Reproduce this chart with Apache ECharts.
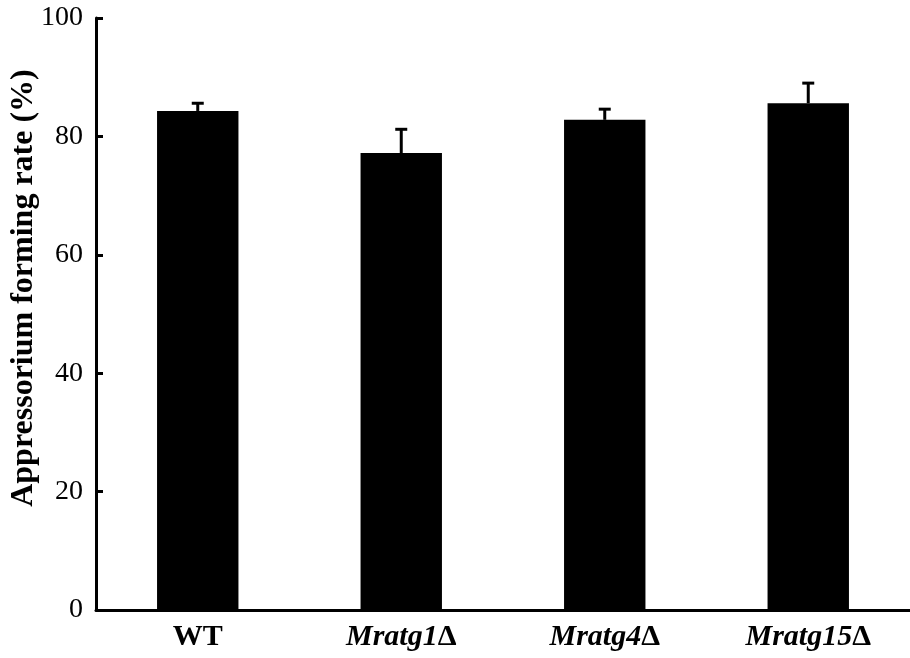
<!DOCTYPE html>
<html>
<head>
<meta charset="utf-8">
<script src="https://cdn.jsdelivr.net/npm/echarts@6/dist/echarts.min.js"></script>
<style>html,body{margin:0;padding:0;background:#fff}#c{width:910px;height:658px}</style>
</head>
<body>
<div id="c"></div>
<script>
var categories = ['WT', 'Mratg1\u0394', 'Mratg4\u0394', 'Mratg15\u0394'];
var values = [84.3, 77.2, 82.8, 85.6];
var errors = [1.3, 4.0, 1.8, 3.4];
var yTicks = [0, 20, 40, 60, 80, 100];

var chart = echarts.init(document.getElementById('c'), null, {renderer: 'canvas'});
var serif = 'Liberation Serif, Times New Roman, serif';

chart.setOption({
  animation: false,
  backgroundColor: '#fff',
  grid: {left: 96, right: 0, top: 18, bottom: 48, containLabel: false, outerBoundsMode: 'none'},
  xAxis: {
    type: 'category',
    data: categories,
    axisLine: {lineStyle: {color: '#000', width: 3}},
    axisTick: {inside: true, length: 8, lineStyle: {color: '#000', width: 3}},
    axisLabel: {
      margin: 12,
      formatter: function (v) {
        if (v.indexOf('\u0394') < 0) return '{b|' + v + '}';
        return '{i|' + v.replace('\u0394', '') + '}{b|\u0394}';
      },
      rich: {
        b: {fontFamily: serif, fontWeight: 'bold', fontSize: 30, color: '#000'},
        i: {fontFamily: serif, fontWeight: 'bold', fontStyle: 'italic', fontSize: 30, color: '#000'}
      }
    },
    splitLine: {show: false}
  },
  yAxis: {
    type: 'value',
    min: yTicks[0],
    max: yTicks[yTicks.length - 1],
    interval: 20,
    name: 'Appressorium forming rate (%)',
    nameLocation: 'middle',
    nameGap: 56,
    nameMoveOverlap: false,
    nameTextStyle: {fontFamily: serif, fontWeight: 'bold', fontSize: 32, color: '#000', padding: [0, 0, 0, 52]},
    axisLine: {show: true, lineStyle: {color: '#000', width: 3}},
    axisTick: {show: true, inside: true, length: 7, lineStyle: {color: '#000', width: 3}},
    axisLabel: {fontFamily: serif, fontSize: 28, color: '#000', margin: 13},
    splitLine: {show: false}
  },
  series: [
    {
      type: 'bar',
      data: values,
      barWidth: '40%',
      itemStyle: {color: '#000'}
    },
    {
      type: 'custom',
      data: values.map(function (v, i) { return [i, v, v + errors[i]]; }),
      renderItem: function (params, api) {
        var x = api.value(0);
        var lo = api.coord([x, api.value(1)]);
        var hi = api.coord([x, api.value(2)]);
        var capW = 6;
        return {
          type: 'group',
          children: [
            {type: 'line', shape: {x1: lo[0], y1: lo[1], x2: hi[0], y2: hi[1]}, style: {stroke: '#000', lineWidth: 3}},
            {type: 'line', shape: {x1: hi[0] - capW, y1: hi[1], x2: hi[0] + capW, y2: hi[1]}, style: {stroke: '#000', lineWidth: 3}}
          ]
        };
      },
      z: 3
    }
  ]
});
</script>
</body>
</html>
